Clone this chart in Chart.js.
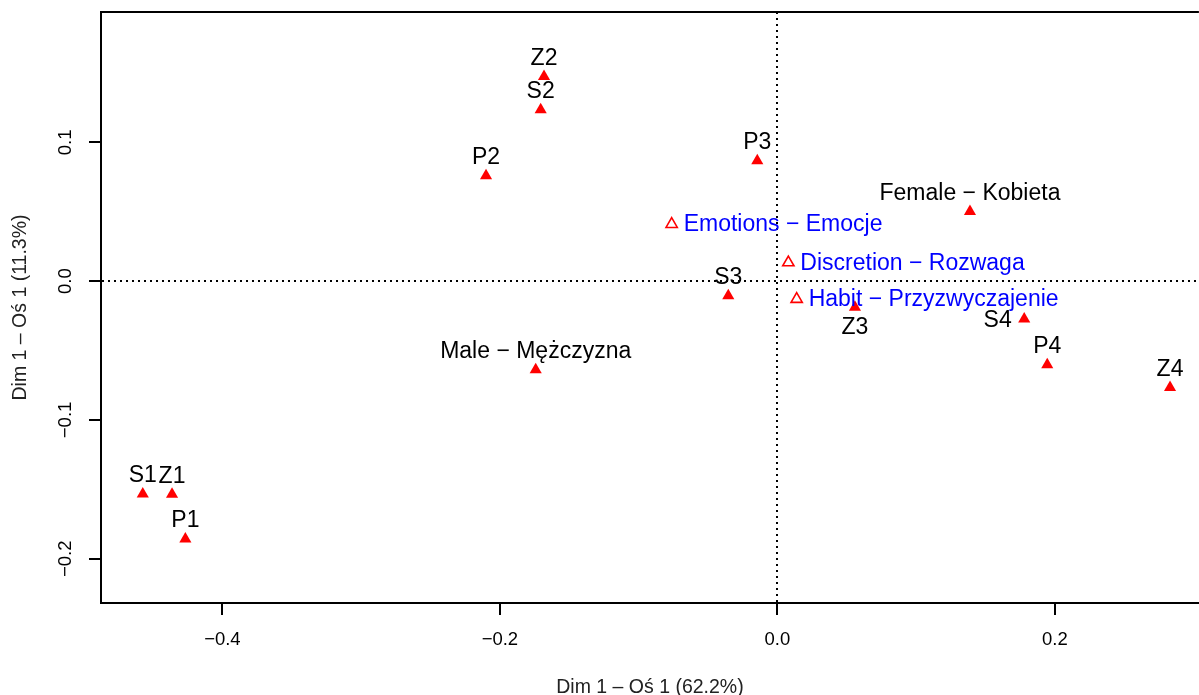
<!DOCTYPE html>
<html>
<head>
<meta charset="utf-8">
<script src="https://cdn.jsdelivr.net/npm/chart.js@4/dist/chart.umd.min.js"></script>
<style>
  html, body { margin: 0; background: #fff; overflow: hidden; }
  canvas { display: block; }
</style>
</head>
<body>
<!-- the plot box runs past the right edge of the window, as in the original -->
<canvas id="caChart" width="1207" height="695"></canvas>
<script>
// category points (rows / active columns)
const pointLabels = ['S1', 'Z1', 'P1', 'S2', 'Z2', 'P2', 'S3', 'Z3', 'P3', 'S4', 'Z4', 'P4',
  'Male \u2212 M\u0119\u017Cczyzna', 'Female \u2212 Kobieta'];
const pointX = [-0.4574, -0.4363, -0.4267, -0.1706, -0.1682, -0.2100, -0.0354, 0.0559, -0.0145,
  0.1779, 0.2830, 0.1945, -0.1742, 0.1388];
const pointY = [-0.1533, -0.1536, -0.1858, 0.1235, 0.1475, 0.0759, -0.0106, -0.0188, 0.0867,
  -0.0272, -0.0767, -0.0603, -0.0639, 0.0502];
// where each label sits relative to its point
const pointLabelPos = ['above', 'above', 'above', 'above', 'above', 'above', 'above', 'below', 'above',
  'left', 'above', 'above', 'above', 'above'];

// supplementary points
const suppLabels = ['Emotions \u2212 Emocje', 'Discretion \u2212 Rozwaga', 'Habit \u2212 Przyzwyczajenie'];
const suppX = [-0.0762, 0.0079, 0.0139];
const suppY = [0.0410, 0.0134, -0.0130];
const suppLabelPos = ['right', 'right', 'right'];

const xTicks = [-0.4, -0.2, 0.0, 0.2];
const yTicks = [-0.2, -0.1, 0.0, 0.1];
const xTitle = 'Dim 1 \u2013 O\u015B 1 (62.2%)';
const yTitle = 'Dim 1 \u2013 O\u015B 1 (11.3%)';

const FONT = '"Liberation Sans", Arial, sans-serif';

function fmtTick(v) {
  const s = Math.abs(v).toFixed(1);
  return v < -1e-9 ? '\u2212' + s : s;
}

const zeroGrid = {
  color: ctx => (ctx.tick && Math.abs(ctx.tick.value) < 1e-9) ? '#000' : 'rgba(0,0,0,0)',
  lineWidth: 2,
  tickColor: '#000',
  tickLength: 12,
  tickWidth: 2
};

const labelPlugin = {
  id: 'pointText',
  afterDatasetsDraw(chart) {
    const ctx = chart.ctx;
    ctx.save();
    ctx.font = '23px ' + FONT;
    ctx.textBaseline = 'alphabetic';
    chart.data.datasets.forEach((ds, di) => {
      const meta = chart.getDatasetMeta(di);
      meta.data.forEach((el, i) => {
        const text = ds.pointText[i];
        const pos = ds.pointTextPos[i];
        let x = el.x, y = el.y;
        if (pos === 'above') { ctx.textAlign = 'center'; y -= 20; }
        else if (pos === 'below') { ctx.textAlign = 'center'; y += 19; }
        else if (pos === 'left') { ctx.textAlign = 'right'; x -= 12.5; }
        else { ctx.textAlign = 'left'; x += 12; y -= 1; }
        ctx.fillStyle = ds.textColor;
        ctx.fillText(text, x, y + 0.358 * 23);
      });
    });
    ctx.restore();
  }
};

const topBorder = {
  id: 'topBorder',
  afterDraw(chart) {
    const { ctx, chartArea } = chart;
    ctx.save();
    ctx.strokeStyle = '#000';
    ctx.lineWidth = 2;
    ctx.beginPath();
    ctx.moveTo(chartArea.left - 1, chartArea.top);
    ctx.lineTo(chartArea.right, chartArea.top);
    ctx.moveTo(chartArea.left, chartArea.top - 1);
    ctx.lineTo(chartArea.left, chartArea.top + 2);
    ctx.stroke();
    ctx.restore();
  }
};

new Chart(document.getElementById('caChart'), {
  type: 'scatter',
  data: {
    datasets: [
      {
        label: 'rows',
        data: pointX.map((x, i) => ({ x, y: pointY[i] })),
        pointStyle: 'triangle',
        pointRadius: 7,
        pointBackgroundColor: '#ff0000',
        pointBorderColor: '#ff0000',
        pointBorderWidth: 0,
        pointText: pointLabels,
        pointTextPos: pointLabelPos,
        textColor: '#000'
      },
      {
        label: 'supplementary',
        data: suppX.map((x, i) => ({ x, y: suppY[i] })),
        pointStyle: 'triangle',
        pointRadius: 6.5,
        pointBackgroundColor: '#fff',
        pointBorderColor: '#ff0000',
        pointBorderWidth: 1.6,
        pointText: suppLabels,
        pointTextPos: suppLabelPos,
        textColor: '#0000ff'
      }
    ]
  },
  options: {
    responsive: false,
    animation: false,
    layout: { padding: { top: 12, left: 0, right: 0, bottom: 0 } },
    plugins: {
      legend: { display: false },
      tooltip: { enabled: false }
    },
    scales: {
      x: {
        type: 'linear',
        min: -0.4875,
        max: 0.3038,
        afterBuildTicks: s => { s.ticks = xTicks.map(v => ({ value: v })); },
        afterFit: s => { s.height = 92; s.paddingLeft = 0; s.paddingRight = 0; },
        grid: zeroGrid,
        border: { display: true, color: '#000', width: 2, dash: [2, 4] },
        ticks: {
          callback: v => fmtTick(v),
          color: '#000',
          padding: 14,
          maxRotation: 0,
          autoSkip: false,
          font: { family: FONT, size: 18.5 }
        },
        title: {
          display: true,
          text: xTitle,
          color: '#222',
          padding: { top: 0, bottom: 0 },
          font: { family: FONT, size: 19.5, lineHeight: 0.8 }
        }
      },
      y: {
        type: 'linear',
        min: -0.2319,
        max: 0.1939,
        afterBuildTicks: s => { s.ticks = yTicks.map(v => ({ value: v })); },
        afterFit: s => { s.width = 101; s.paddingTop = 0; s.paddingBottom = 0; },
        grid: zeroGrid,
        border: { display: true, color: '#000', width: 2, dash: [2, 4] },
        ticks: {
          callback: v => fmtTick(v),
          color: '#000',
          padding: 5,
          minRotation: 90,
          maxRotation: 90,
          crossAlign: 'center',
          autoSkip: false,
          font: { family: FONT, size: 18.5 }
        },
        title: {
          display: true,
          text: yTitle,
          color: '#222',
          padding: { top: 11, bottom: 0 },
          font: { family: FONT, size: 19.5, lineHeight: 1 }
        }
      }
    }
  },
  plugins: [labelPlugin, topBorder]
});
</script>
</body>
</html>
